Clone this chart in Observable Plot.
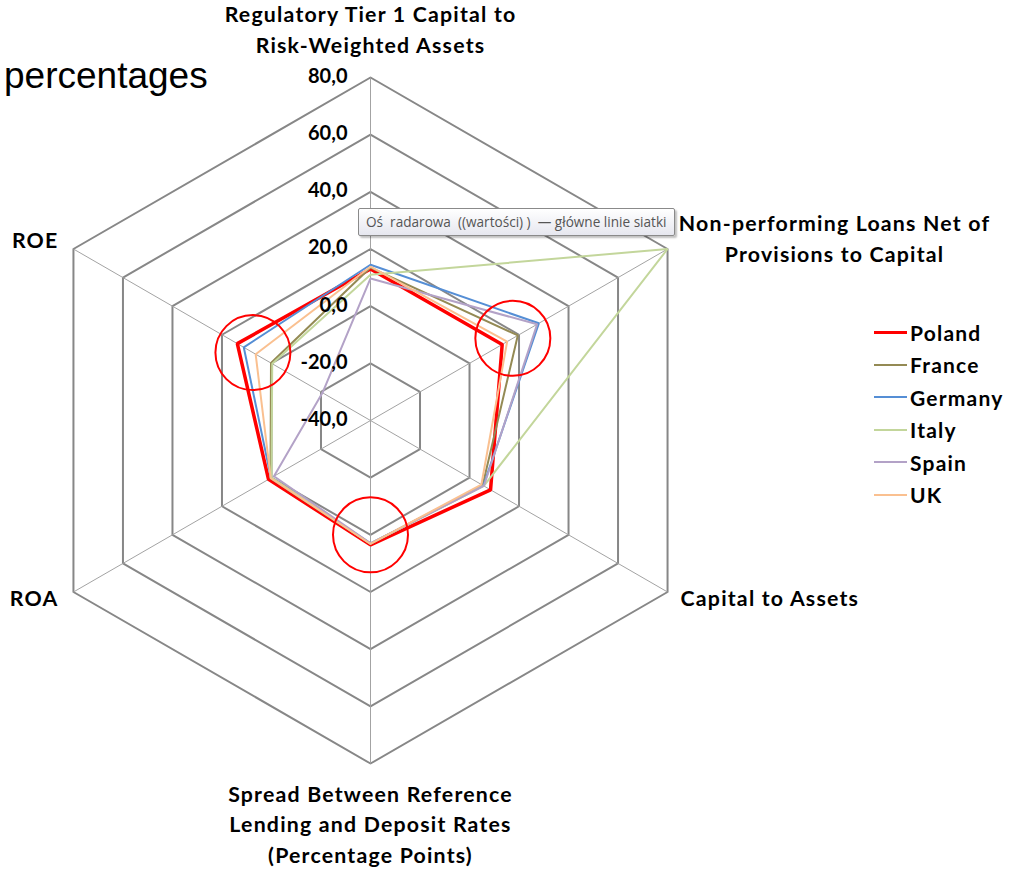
<!DOCTYPE html>
<html>
<head>
<meta charset="utf-8">
<script src="https://cdn.jsdelivr.net/npm/d3@7"></script>
<script src="https://cdn.jsdelivr.net/npm/@observablehq/plot@0.6"></script>
<style>
  body { margin: 0; background: #fff; }
  #wrap { position: relative; width: 1016px; height: 869px; overflow: hidden; }
  #wrap svg { position: absolute; left: 0; top: 0; }
  .unit { position: absolute; left: 4px; top: 54px; font-family: "Liberation Sans", Arial, sans-serif; font-size: 37px; color: #000; line-height: 44px; }
  .tip { position: absolute; left: 358px; top: 208px; width: 317px; height: 28px; box-sizing: border-box;
         border: 1px solid #8a8a8a; border-radius: 2px; background: linear-gradient(#ffffff, #e6e7ef);
         box-shadow: 2px 2px 2px rgba(0,0,0,0.25); font-family: "Open Sans", "Noto Sans", sans-serif;
         font-size: 13.6px; color: #555; line-height: 26px; padding-left: 7px; white-space: pre; }
  .legend { position: absolute; left: 874px; top: 316px; font-family: Lato, "Open Sans", sans-serif; font-weight: bold; font-size: 21px; letter-spacing: 1.2px; }
  .legend .item { display: flex; align-items: center; height: 32.5px; }
  .legend .swatch { width: 33px; margin-right: 3px; }
</style>
</head>
<body>
<div id="wrap"></div>
<script>
// Radar axes, clockwise from the top
const axes = [
  "Regulatory Tier 1 Capital to\nRisk-Weighted Assets",
  "Non-performing Loans Net of\nProvisions to Capital",
  "Capital to Assets",
  "Spread Between Reference\nLending and Deposit Rates\n(Percentage Points)",
  "ROA",
  "ROE"
];

const countries = ["Poland", "France", "Germany", "Italy", "Spain", "UK"];
const colors = ["#ff0000", "#948a54", "#558ed5", "#c3d69b", "#b3a2c7", "#fac090"];

// Values per axis, same order as `axes`
const poland  = [13.0, 13.2, 8.5, 3.5,  1.2, 13.8];
const france  = [13.5, 19.5, 5.3, 3.2,  0.4,  0.2];
const germany = [14.5, 28.0, 5.6, 3.0,  0.2, 11.2];
const italy   = [11.0, 80.0, 5.8, 3.1,  0.0, -0.3];
const spain   = [ 9.7, 27.3, 5.8, 3.0, -1.0, -20.6];
const uk      = [13.8, 15.2, 4.8, 3.2,  0.3,  6.4];
const series = [poland, france, germany, italy, spain, uk];

// Radial scale ticks
const ticks = [-40, -20, 0, 20, 40, 60, 80];
const tickLabels = ["-40,0", "-20,0", "0,0", "20,0", "40,0", "60,0", "80,0"];

// Circled points of interest (axis index, value along that axis)
const highlights = [
  {axis: 5, value: 7.5},
  {axis: 1, value: 17.5},
  {axis: 3, value: 0.0}
];

const vMin = ticks[0], vMax = ticks[ticks.length - 1];
const rad = v => (v - vMin) / (vMax - vMin);
const ang = i => i * 2 * Math.PI / axes.length;
const px = (i, v) => rad(v) * Math.sin(ang(i));
const py = (i, v) => rad(v) * Math.cos(ang(i));

// Web grid
const rings = ticks.slice(1).flatMap(t => axes.map((a, i) => ({t, x: px(i, t), y: py(i, t)})));
const spokes = axes.map((a, i) => ({x1: px(i, vMin), y1: py(i, vMin), x2: px(i, vMax), y2: py(i, vMax)}));

// Country polygons
const points = countries.flatMap((c, k) => series[k].map((v, i) => ({country: c, x: px(i, v), y: py(i, v)})));

// Placement of the axis titles around the web
const titleLayout = [
  {textAnchor: "middle", dx: 0,   dy: -50},
  {textAnchor: "middle", dx: 167, dy: -12},
  {textAnchor: "start",  dx: 13,  dy: 4},
  {textAnchor: "middle", dx: 0,   dy: 59},
  {textAnchor: "end",    dx: -15, dy: 4},
  {textAnchor: "end",    dx: -15, dy: -11}
];

const R = 343, cx = 370, cy = 420, W = 1016, H = 869;
const font = "Lato, 'Open Sans', sans-serif";

const marks = [
  Plot.line(rings, {x: "x", y: "y", z: "t", curve: "linear-closed", stroke: "#878787", strokeWidth: 2}),
  Plot.link(spokes, {x1: "x1", y1: "y1", x2: "x2", y2: "y2", stroke: "#a3a3a3", strokeWidth: 1}),
  ...countries.map((c, k) => Plot.line(points.filter(d => d.country === c), {
    x: "x", y: "y", curve: "linear-closed", stroke: colors[k],
    strokeWidth: c === "Poland" ? 3.5 : 2, strokeLinejoin: "miter"
  })),
  Plot.text(ticks, {
    x: t => px(0, t), y: t => py(0, t), text: (t, j) => tickLabels[j],
    textAnchor: "end", dx: -23, dy: -1, fontSize: 20, fontWeight: "bold", fill: "#000", fontFamily: font
  }),
  ...axes.map((a, i) => Plot.text([a], {
    x: () => px(i, vMax), y: () => py(i, vMax), text: d => d,
    textAnchor: titleLayout[i].textAnchor, dx: titleLayout[i].dx, dy: titleLayout[i].dy,
    lineAnchor: "middle", lineHeight: 1.44, fontSize: 21.3, fontWeight: "bold", fill: "#000",
    fontFamily: font
  })),
  Plot.dot(highlights, {
    x: d => px(d.axis, d.value), y: d => py(d.axis, d.value),
    r: 37.5, stroke: "#ff0000", strokeWidth: 2, fill: "none"
  })
];

const chart = Plot.plot({
  width: W, height: H, margin: 0,
  x: {domain: [-cx / R, (W - cx) / R], axis: null},
  y: {domain: [-(H - cy) / R, cy / R], axis: null},
  marks
});

// Slightly looser tracking on the axis titles (every text group after the tick labels)
d3.select(chart).selectAll("g[aria-label='text']")
  .filter((d, i) => i > 0)
  .attr("letter-spacing", "1.2px");

const wrap = document.getElementById("wrap");
wrap.appendChild(chart);

const unit = document.createElement("div");
unit.className = "unit";
unit.textContent = "percentages";
wrap.appendChild(unit);

const tip = document.createElement("div");
tip.className = "tip";
tip.textContent = "Oś  radarowa  ((wartości) )  — główne linie siatki";
wrap.appendChild(tip);

const legend = document.createElement("div");
legend.className = "legend";
countries.forEach((c, k) => {
  const item = document.createElement("div");
  item.className = "item";
  const sw = document.createElement("div");
  sw.className = "swatch";
  sw.style.borderTop = `${c === "Poland" ? 3 : 2}px solid ${colors[k]}`;
  const label = document.createElement("span");
  label.textContent = c;
  item.appendChild(sw);
  item.appendChild(label);
  legend.appendChild(item);
});
wrap.appendChild(legend);
</script>
</body>
</html>
